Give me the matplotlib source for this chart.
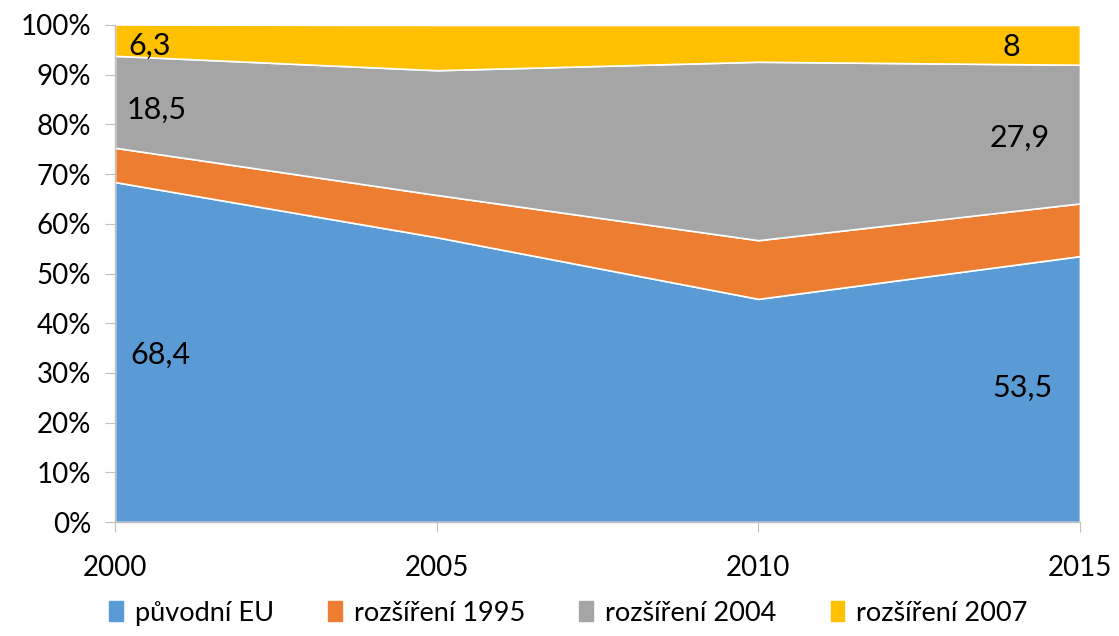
import matplotlib
matplotlib.use("Agg")
import matplotlib.pyplot as plt
import matplotlib.patches as mpatches
import numpy as np

plt.rcParams['font.family'] = ['Lato', 'DejaVu Sans']

# data (share in %)
years = [2000, 2005, 2010, 2015]
series_names = ["původní EU", "rozšíření 1995", "rozšíření 2004", "rozšíření 2007"]
puvodni_eu = [68.4, 57.3, 44.9, 53.5]
rozs_1995 = [6.9, 8.5, 11.8, 10.6]
rozs_2004 = [18.5, 25.1, 35.9, 27.9]
rozs_2007 = [6.3, 9.1, 7.4, 8.0]
colors = ["#5b9bd5", "#ed7d31", "#a5a5a5", "#ffc000"]

# data labels: (series index, year index, text)
labels = [(3, 0, "6,3"), (2, 0, "18,5"), (0, 0, "68,4"),
          (3, 3, "8"), (2, 3, "27,9"), (0, 3, "53,5")]

fig = plt.figure(figsize=(11.19, 6.36), dpi=100)
ax = fig.add_axes([0.1028, 0.1792, 0.8623, 0.7815])

data = np.array([puvodni_eu, rozs_1995, rozs_2004, rozs_2007])
ax.stackplot(years, data, colors=colors, edgecolor="white", linewidth=1.2)

ax.set_xlim(2000, 2015)
ax.set_ylim(0, 100)
ax.set_yticks(range(0, 101, 10))
ax.set_yticklabels(["%d%%" % v for v in range(0, 101, 10)])
ax.set_xticks(years)

for s in ["top", "right"]:
    ax.spines[s].set_visible(False)
for s in ["left", "bottom"]:
    ax.spines[s].set_color("#bfbfbf")
    ax.spines[s].set_linewidth(1.0)
ax.tick_params(axis="y", length=7, color="#bfbfbf", labelsize=20, pad=10)
ax.tick_params(axis="x", length=7, color="#bfbfbf", labelsize=20, pad=17)

# label placement inside the areas
label_pos = {(3, 0): (2000.54, 95.9), (2, 0): (2000.65, 82.9), (0, 0): (2000.7, 33.6),
             (3, 3): (2013.94, 95.6), (2, 3): (2014.07, 77.3), (0, 3): (2014.1, 27.0)}
for si, yi, txt in labels:
    x, y = label_pos[(si, yi)]
    ax.text(x, y, txt, ha="center", va="center", fontsize=22, color="black")

handles = [mpatches.Patch(color=c, label=n) for c, n in zip(colors, series_names)]
fig.legend(handles=handles, loc="lower center", bbox_to_anchor=(0.508, -0.022), ncol=4,
           frameon=False, fontsize=19.5, handlelength=0.5, handleheight=0.75,
           handletextpad=0.45, columnspacing=2.0)

fig.savefig("out.png", dpi=100)
